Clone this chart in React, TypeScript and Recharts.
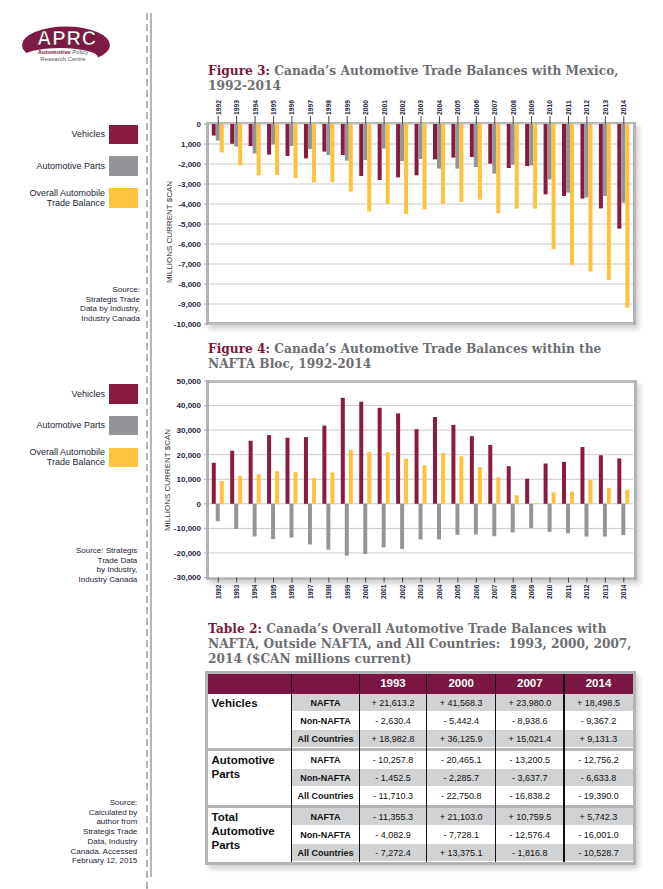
import React from "react";
import { BarChart, Bar, XAxis, YAxis, CartesianGrid } from "recharts";

const years = [
  "1992", "1993", "1994", "1995", "1996", "1997", "1998", "1999", "2000", "2001", "2002", "2003",
  "2004", "2005", "2006", "2007", "2008", "2009", "2010", "2011", "2012", "2013", "2014",
];

// Figure 3: trade balances with Mexico
const mexVehicles = [
  -580, -990, -1100, -1530, -1600, -1720, -1380, -1550, -2600, -2800, -2670, -2570,
  -1770, -1680, -1650, -1980, -2200, -2100, -3520, -3600, -3730, -4220, -5230,
];
const mexParts = [
  -830, -1130, -1470, -1020, -1100, -1250, -1550, -1830, -1800, -1230, -1850, -1750,
  -2230, -2230, -2150, -2480, -2030, -2070, -2770, -3430, -3670, -3600, -3930,
];
const mexOverall = [
  -1420, -2080, -2570, -2550, -2700, -2930, -2920, -3380, -4380, -4000, -4500, -4270,
  -4000, -3900, -3780, -4470, -4230, -4230, -6270, -7050, -7370, -7800, -9170,
];
const mexTicks = [0, -1000, -2000, -3000, -4000, -5000, -6000, -7000, -8000, -9000, -10000];
const mexTickLabels = ["0", "1,000", "-2,000", "-3,000", "-4,000", "-5,000", "-6,000", "-7,000", "-8,000", "-9,000", "-10,000"];

// Figure 4: trade balances within NAFTA
const naftaVehicles = [
  16700, 21613, 25670, 27960, 26880, 27150, 31850, 43150, 41568, 39110, 36830, 30380,
  35350, 32120, 27550, 23980, 15320, 10210, 16400, 17070, 23120, 19760, 18498,
];
const naftaParts = [
  -7120, -10258, -13300, -14380, -13710, -16530, -18680, -21100, -20465, -17740, -18410, -14520,
  -14520, -12630, -12500, -13200, -11690, -9810, -11420, -11960, -13300, -13300, -12756,
];
const naftaOverall = [
  9270, 11355, 12100, 13300, 12900, 10480, 12770, 22040, 21103, 20970, 18410, 15730,
  20700, 19350, 14920, 10760, 3490, 270, 4700, 4970, 9680, 6450, 5742,
];
const naftaTicks = [50000, 40000, 30000, 20000, 10000, 0, -10000, -20000, -30000];
const naftaTickLabels = ["50,000", "40,000", "30,000", "20,000", "10,000", "0", "-10,000", "-20,000", "-30,000"];

// Table 2
const tableYears = ["1993", "2000", "2007", "2014"];
const tableGroups = [["Vehicles"], ["Automotive", "Parts"], ["Total", "Automotive", "Parts"]];
const tableRowLabels = ["NAFTA", "Non-NAFTA", "All Countries"];
const vehiclesRows = [
  ["+ 21,613.2", "+ 41,568.3", "+ 23,980.0", "+ 18,498.5"],
  ["- 2,630.4", "- 5,442.4", "- 8,938.6", "- 9,367.2"],
  ["+ 18,982.8", "+ 36,125.9", "+ 15,021.4", "+ 9,131.3"],
];
const partsRows = [
  ["- 10,257.8", "- 20,465.1", "- 13,200.5", "- 12,756.2"],
  ["- 1,452.5", "- 2,285.7", "- 3,637.7", "- 6,633.8"],
  ["- 11,710.3", "- 22,750.8", "- 16,838.2", "- 19,390.0"],
];
const totalRows = [
  ["- 11,355.3", "+ 21,103.0", "+ 10,759.5", "+ 5,742.3"],
  ["- 4,082.9", "- 7,728.1", "- 12,576.4", "- 16,001.0"],
  ["- 7,272.4", "+ 13,375.1", "- 1,816.8", "- 10,528.7"],
];

const MAROON = "#8a1a42";
const GRAY = "#939598";
const GOLD = "#fec23d";
const TITLE_GRAY = "#6d6e71";
const TITLE_RED = "#7a1840";
const SANS = "'Liberation Sans', Arial, sans-serif";
const SERIF = "'DejaVu Serif', serif";

const mexData = years.map((y, i) => ({ year: y, vehicles: mexVehicles[i], parts: mexParts[i], overall: mexOverall[i] }));
const naftaData = years.map((y, i) => ({ year: y, vehicles: naftaVehicles[i], parts: naftaParts[i], overall: naftaOverall[i] }));

const TopYearTick = (props: any) => {
  const { x, y, payload } = props;
  return (
    <text x={x} y={y} dy="0.36em" transform={`rotate(-90, ${x}, ${y})`} textAnchor="start"
      fontSize={6.8} fontWeight="bold" fill="#1d2640" fontFamily={SANS}>
      {payload.value}
    </text>
  );
};

const BottomYearTick = (props: any) => {
  const { x, y, payload } = props;
  return (
    <text x={x} y={y} dy="0.36em" transform={`rotate(-90, ${x}, ${y})`} textAnchor="end"
      fontSize={6.5} fontWeight="bold" fill="#1d2640" fontFamily={SANS}>
      {payload.value}
    </text>
  );
};

const yTickStyle = { fontSize: 8, fontWeight: "bold" as const, fill: "#1d2640", fontFamily: SANS };

const Frame = ({ left, top, width, height, bt = 3 }: { left: number; top: number; width: number; height: number; bt?: number }) => (
  <div style={{
    position: "absolute", left, top, width, height, boxSizing: "border-box",
    border: "3px solid #b3b4b6", borderTopWidth: bt, background: "#fff",
    boxShadow: "3px 4px 5px rgba(0,0,0,0.18)",
  }} />
);

const Title = ({ top, label, lines }: { top: number; label: string; lines: string[] }) => (
  <div style={{
    position: "absolute", left: 208, top, fontFamily: SERIF, fontWeight: "bold",
    fontSize: 12.2, lineHeight: "15px", color: TITLE_GRAY, whiteSpace: "pre",
  }}>
    {lines.map((l, i) => (
      <div key={i}>{i === 0 && <span style={{ color: TITLE_RED }}>{label} </span>}{l}</div>
    ))}
  </div>
);

const VLabel = ({ x, y }: { x: number; y: number }) => (
  <svg style={{ position: "absolute", left: 0, top: 0, overflow: "visible" }} width={1} height={1}>
    <text x={x} y={y} dy="0.35em" transform={`rotate(-90, ${x}, ${y})`} textAnchor="middle"
      fontSize={8} fill="#333" fontFamily={SANS}>MILLIONS CURRENT $CAN</text>
  </svg>
);

const Legend = ({ top }: { top: number }) => {
  const items = [
    { lines: ["Vehicles"], color: MAROON, y: 0 },
    { lines: ["Automotive Parts"], color: GRAY, y: 31.5 },
    { lines: ["Overall Automobile", "Trade Balance"], color: GOLD, y: 63.5 },
  ];
  return (
    <>
      {items.map((it) => (
        <React.Fragment key={it.lines[0]}>
          <div style={{ position: "absolute", left: 109, top: top + it.y, width: 29, height: 19.5, background: it.color }} />
          <div style={{
            position: "absolute", right: 663 - 105, top: top + it.y + 9.75 - it.lines.length * 5,
            fontFamily: SANS, fontSize: 9, lineHeight: "10px", color: "#1c1c34", textAlign: "right", whiteSpace: "nowrap",
          }}>
            {it.lines.map((l) => <div key={l}>{l}</div>)}
          </div>
        </React.Fragment>
      ))}
    </>
  );
};

const Source = ({ right, top, lines }: { right: number; top: number; lines: string[] }) => (
  <div style={{
    position: "absolute", right: 663 - right, top, fontFamily: SANS, fontSize: 8, lineHeight: "9.7px",
    color: "#1c1c34", textAlign: "right", whiteSpace: "nowrap",
  }}>
    {lines.map((l) => <div key={l}>{l}</div>)}
  </div>
);

const colX = [208, 291.7, 359.3, 426.7, 495.7, 564, 633];
const TABLE_TOP = 674;
const HEADER_H = 19.5;
const ROW_H = 18;
const SEP_H = 3;

const Table = () => {
  const groupsRows = [vehiclesRows, partsRows, totalRows];
  const cells: React.ReactNode[] = [];
  // header
  cells.push(<div key="hdr" style={{ position: "absolute", left: colX[0], top: TABLE_TOP, width: colX[6] - colX[0], height: HEADER_H, background: "#7b1542" }} />);
  tableYears.forEach((yr, i) => {
    cells.push(
      <div key={"h" + yr} style={{
        position: "absolute", left: colX[i + 2], top: TABLE_TOP, width: colX[i + 3] - colX[i + 2], height: HEADER_H,
        lineHeight: HEADER_H + "px", textAlign: "center", color: "#fff", fontWeight: "bold", fontSize: 11.5, fontFamily: SANS,
      }}>{yr}</div>
    );
  });
  let rowIdx = 0;
  let y = TABLE_TOP + HEADER_H;
  groupsRows.forEach((rows, g) => {
    const gTop = y;
    rows.forEach((vals, r) => {
      const shaded = rowIdx % 2 === 0;
      const bg = shaded ? "#d1d2d4" : "#fff";
      cells.push(<div key={`bg${g}${r}`} style={{ position: "absolute", left: colX[1], top: y, width: colX[6] - colX[1], height: ROW_H - 0.8, background: bg }} />);
      cells.push(
        <div key={`l${g}${r}`} style={{
          position: "absolute", left: colX[1], top: y, width: colX[2] - colX[1], height: ROW_H, lineHeight: ROW_H + "px",
          textAlign: "center", fontWeight: "bold", fontSize: 9, fontFamily: SANS, color: "#111", whiteSpace: "nowrap",
        }}>{tableRowLabels[r]}</div>
      );
      vals.forEach((v, c) => {
        cells.push(
          <div key={`v${g}${r}${c}`} style={{
            position: "absolute", left: colX[c + 2], top: y, width: colX[c + 3] - colX[c + 2], height: ROW_H, lineHeight: ROW_H + "px",
            textAlign: "center", fontSize: 9, fontFamily: SANS, color: "#111", whiteSpace: "nowrap",
          }}>{v}</div>
        );
      });
      y += ROW_H;
      rowIdx++;
    });
    cells.push(
      <div key={"g" + g} style={{
        position: "absolute", left: colX[0] + 3.5, top: gTop + 2, fontWeight: "bold", fontSize: 11.5, lineHeight: "14px",
        fontFamily: SANS, color: "#111", whiteSpace: "nowrap",
      }}>{tableGroups[g].map((t) => <div key={t}>{t}</div>)}</div>
    );
    if (g < groupsRows.length - 1) {
      cells.push(<div key={"s" + g} style={{ position: "absolute", left: colX[0], top: y, width: colX[6] - colX[0], height: SEP_H, background: "#b3b4b6" }} />);
      y += SEP_H;
    }
  });
  const bottom = y;
  colX.slice(1, 6).forEach((cx, i) => {
    cells.push(<div key={"vl" + i} style={{ position: "absolute", left: cx - 0.75, top: TABLE_TOP, width: 1.5, height: bottom - TABLE_TOP, background: "#111" }} />);
  });
  return (
    <>
      <Frame left={205} top={TABLE_TOP - 3} width={431} height={bottom - TABLE_TOP + 6} />
      {cells}
    </>
  );
};

const Logo = () => (
  <svg style={{ position: "absolute", left: 0, top: 0 }} width={140} height={80}>
    <ellipse cx={66} cy={45} rx={44} ry={18.5} fill="#7d1a45" />
    <ellipse cx={60} cy={57.5} rx={38} ry={9.5} fill="#fff" />
    <text x={67} y={44.5} textAnchor="middle" fontFamily={SANS} fontWeight="bold" fontSize={20}
      fill="#fff" stroke="#4a0c26" strokeWidth={0.6} letterSpacing={0.8}>APRC</text>
    <text x={63} y={54} textAnchor="middle" fontFamily={SANS} fontSize={6}>
      <tspan fill="#7d1a45" fontWeight="bold">Automotive</tspan>
      <tspan fill="#555"> Policy</tspan>
    </text>
    <text x={63} y={61} textAnchor="middle" fontFamily={SANS} fontSize={6} fill="#555">Research Centre</text>
  </svg>
);

export default function App() {
  return (
    <div style={{ position: "absolute", left: 0, top: 0, width: 663, height: 889, overflow: "hidden", background: "#fff", fontFamily: SANS }}>
      <Logo />
      <svg style={{ position: "absolute", left: 0, top: 0 }} width={663} height={889}>
        <line x1={147} y1={13} x2={147} y2={889} stroke="#b5b6b8" strokeWidth={2} strokeDasharray="7 4" />
        <line x1={151} y1={13} x2={151} y2={877} stroke="#b5b6b8" strokeWidth={2} />
      </svg>

      {/* Figure 3 */}
      <Title top={63.5} label="Figure 3:" lines={["Canada’s Automotive Trade Balances with Mexico,", "1992-2014"]} />
      <Legend top={124.5} />
      <Source right={140} top={285} lines={["Source:", "Strategis Trade", "Data by Industry,", "Industry Canada"]} />
      <Frame left={206} top={122} width={430} height={203} bt={2} />
      <div style={{ position: "absolute", left: 150, top: 90 }}>
        <BarChart width={500} height={250} data={mexData} margin={{ top: 0, right: 17, bottom: 16, left: 0 }}
          barCategoryGap="15%" barGap={0}>
          <CartesianGrid vertical={false} stroke="#c9c9c9" />
          <XAxis dataKey="year" orientation="top" height={34} interval={0} axisLine={false}
            tickLine={{ stroke: "#444" }} tickSize={8} tickMargin={1} tick={<TopYearTick />} />
          <YAxis width={59} domain={[-10000, 0]} ticks={mexTicks} interval={0} axisLine={false}
            tickLine={{ stroke: "#aaa" }} tickSize={5} tickMargin={3} tick={yTickStyle}
            tickFormatter={(v: number) => mexTickLabels[mexTicks.indexOf(v)]} />
          <Bar dataKey="vehicles" fill={MAROON} isAnimationActive={false} />
          <Bar dataKey="parts" fill={GRAY} isAnimationActive={false} />
          <Bar dataKey="overall" fill={GOLD} isAnimationActive={false} />
        </BarChart>
      </div>
      <VLabel x={169.5} y={232} />

      {/* Figure 4 */}
      <Title top={341.8} label="Figure 4:" lines={["Canada’s Automotive Trade Balances within the", "NAFTA Bloc, 1992-2014"]} />
      <Legend top={384} />
      <Source right={137.3} top={546} lines={["Source: Strategis", "Trade Data", "by Industry,", "Industry Canada"]} />
      <Frame left={206} top={380} width={431} height={200} />
      <div style={{ position: "absolute", left: 150, top: 371 }}>
        <BarChart width={500} height={240} data={naftaData} margin={{ top: 10, right: 17, bottom: 3.5, left: 0 }}
          barCategoryGap="15%" barGap={0}>
          <CartesianGrid vertical={false} stroke="#c9c9c9" />
          <XAxis dataKey="year" height={30} interval={0} axisLine={false}
            tickLine={{ stroke: "#444" }} tickSize={5} tickMargin={2} tick={<BottomYearTick />} />
          <YAxis width={59} domain={[-30000, 50000]} ticks={naftaTicks} interval={0} axisLine={false}
            tickLine={{ stroke: "#aaa" }} tickSize={5} tickMargin={3} tick={yTickStyle}
            tickFormatter={(v: number) => naftaTickLabels[naftaTicks.indexOf(v)]} />
          <Bar dataKey="vehicles" fill={MAROON} isAnimationActive={false} />
          <Bar dataKey="parts" fill={GRAY} isAnimationActive={false} />
          <Bar dataKey="overall" fill={GOLD} isAnimationActive={false} />
        </BarChart>
      </div>
      <VLabel x={167} y={480} />

      {/* Table 2 */}
      <Title top={621.8} label="Table 2:" lines={[
        "Canada’s Overall Automotive Trade Balances with",
        "NAFTA, Outside NAFTA, and All Countries:  1993, 2000, 2007,",
        "2014 ($CAN millions current)",
      ]} />
      <Source right={137.3} top={798} lines={[
        "Source:", "Calculated by", "author from", "Strategis Trade", "Data, Industry", "Canada. Accessed", "February 12, 2015",
      ]} />
      <Table />
    </div>
  );
}
